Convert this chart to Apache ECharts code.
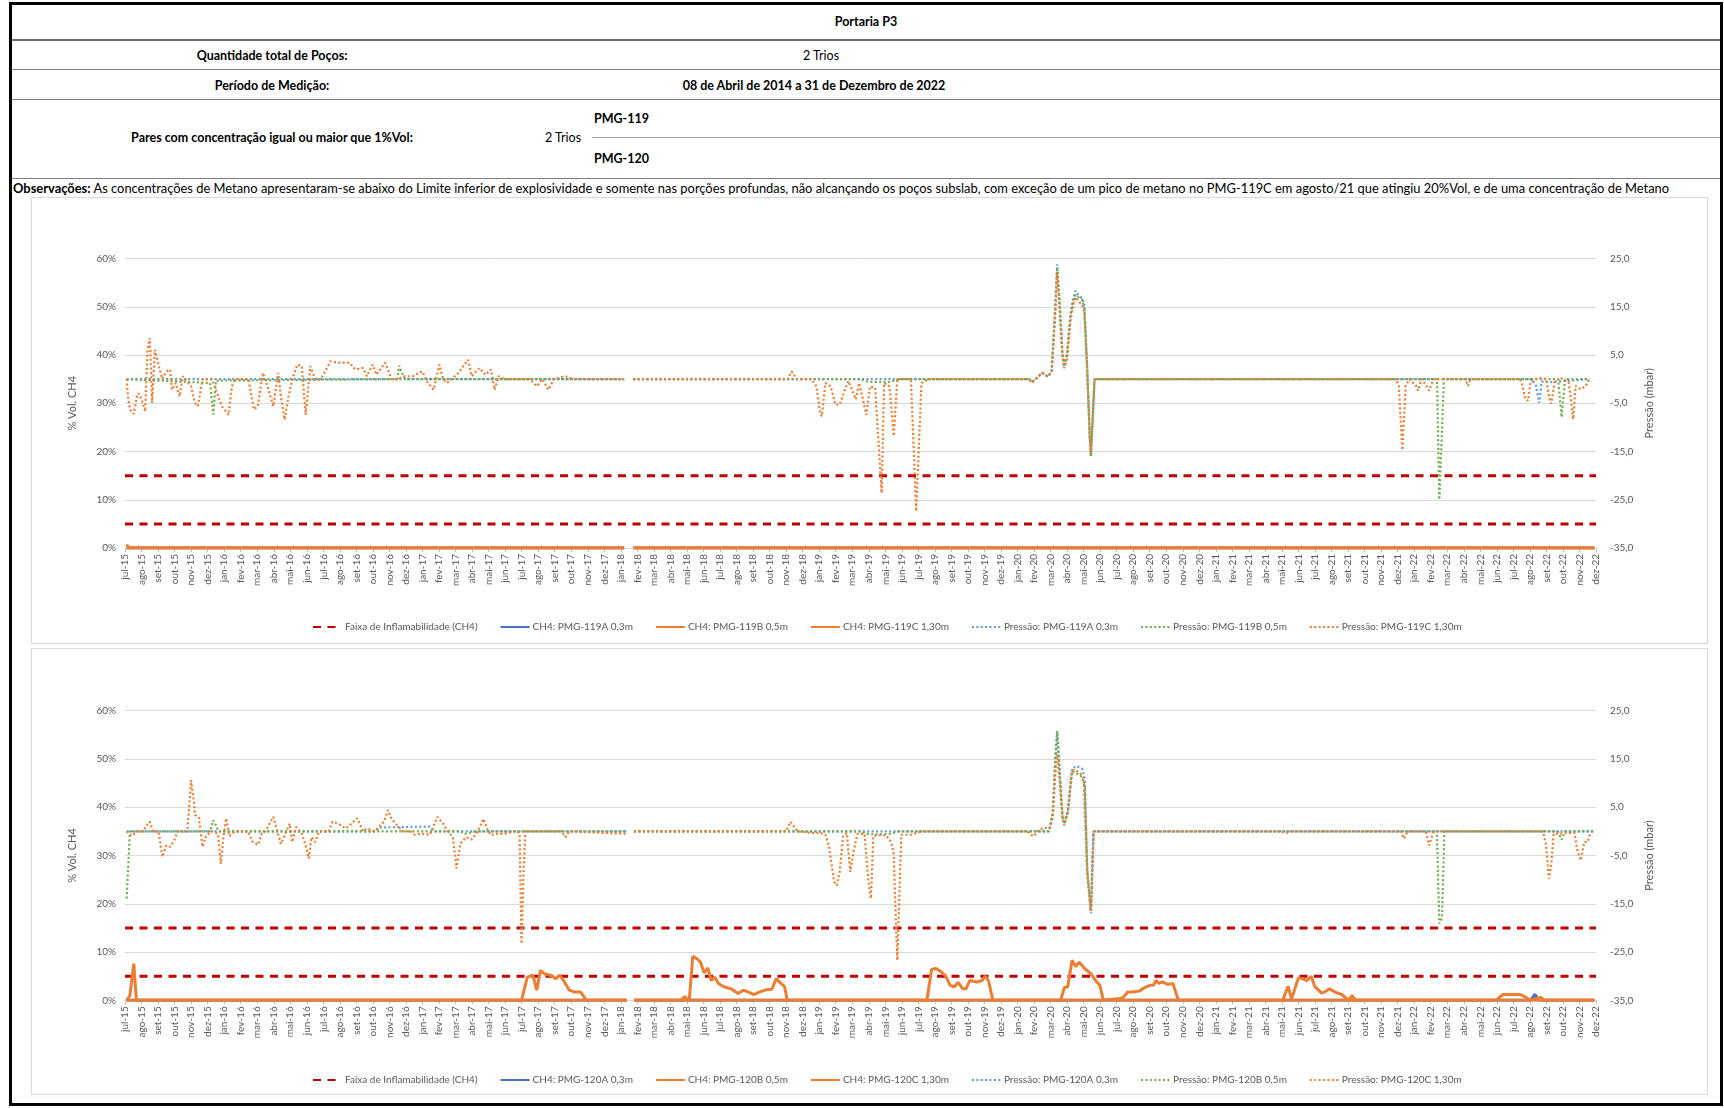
<!DOCTYPE html>
<html>
<head>
<meta charset="utf-8">
<script src="https://cdn.jsdelivr.net/npm/echarts@6/dist/echarts.min.js"></script>
<style>
  html, body { margin: 0; padding: 0; background: #fff; }
  body { width: 1724px; height: 1108px; position: relative; overflow: hidden; font-family: Lato, 'Liberation Sans', sans-serif; color: #000; }
  .t { position: absolute; white-space: nowrap; line-height: 1; font-size: 12.5px; }
  .b { font-weight: bold; }
  .c { transform: translate(-50%, -50%); }
  .l { transform: translateY(-50%); }
  .hl { position: absolute; height: 0; border-top: 1px solid #7f7f7f; }
  .vb { position: absolute; background: #000; }
  .panel { position: absolute; box-sizing: border-box; border: 1px solid #d9d9d9; }
  .chart { position: absolute; }
</style>
</head>
<body>
<!-- outer black frame -->
<div class="vb" style="left:9px;top:2px;width:1714px;height:3px;"></div>
<div class="vb" style="left:9px;top:2px;width:3px;height:1104px;"></div>
<div class="vb" style="left:1720px;top:2px;width:3px;height:1104px;"></div>
<div class="vb" style="left:9px;top:1103px;width:1714px;height:3px;"></div>

<div class="t b c" style="left:866px;top:22px;">Portaria P3</div>
<div class="hl" style="left:12px;top:39px;width:1708px;border-top:2px solid #6f6f6f;"></div>
<div class="t b c" style="left:272px;top:56px;">Quantidade total de Poços:</div>
<div class="t c" style="left:821px;top:56px;">2 Trios</div>
<div class="hl" style="left:12px;top:69px;width:1708px;"></div>
<div class="t b c" style="left:272px;top:86px;">Período de Medição:</div>
<div class="t b c" style="left:814px;top:86px;">08 de Abril de 2014 a 31 de Dezembro de 2022</div>
<div class="hl" style="left:12px;top:99px;width:1708px;"></div>
<div class="t b l" style="left:594px;top:119px;">PMG-119</div>
<div class="t b c" style="left:272px;top:138px;">Pares com concentração igual ou maior que 1%Vol:</div>
<div class="t c" style="left:563px;top:138px;">2 Trios</div>
<div class="hl" style="left:592px;top:137px;width:1128px;border-top:1px solid #a6a6a6;"></div>
<div class="t b l" style="left:594px;top:159px;">PMG-120</div>
<div class="hl" style="left:12px;top:178px;width:1708px;"></div>
<div class="t l" style="left:13px;top:188px;font-size:12.9px;"><b>Observações:</b> As concentrações de Metano apresentaram-se abaixo do Limite inferior de explosividade e somente nas porções profundas, não alcançando os poços subslab, com exceção de um pico de metano no PMG-119C em agosto/21 que atingiu 20%Vol, e de uma concentração de Metano</div>

<div class="panel" style="left:31px;top:197px;width:1677px;height:447px;"></div>
<div class="panel" style="left:31px;top:648px;width:1677px;height:447px;"></div>
<div id="c1" class="chart" style="left:31px;top:197px;width:1676px;height:446px;"></div>
<div id="c2" class="chart" style="left:31px;top:648px;width:1676px;height:446px;"></div>

<script>
// ---------- tick labels (monthly, jul-15 .. dez-22) ----------
const months = [
  'jul-15','ago-15','set-15','out-15','nov-15','dez-15',
  'jan-16','fev-16','mar-16','abr-16','mai-16','jun-16','jul-16','ago-16','set-16','out-16','nov-16','dez-16',
  'jan-17','fev-17','mar-17','abr-17','mai-17','jun-17','jul-17','ago-17','set-17','out-17','nov-17','dez-17',
  'jan-18','fev-18','mar-18','abr-18','mai-18','jun-18','jul-18','ago-18','set-18','out-18','nov-18','dez-18',
  'jan-19','fev-19','mar-19','abr-19','mai-19','jun-19','jul-19','ago-19','set-19','out-19','nov-19','dez-19',
  'jan-20','fev-20','mar-20','abr-20','mai-20','jun-20','jul-20','ago-20','set-20','out-20','nov-20','dez-20',
  'jan-21','fev-21','mar-21','abr-21','mai-21','jun-21','jul-21','ago-21','set-21','out-21','nov-21','dez-21',
  'jan-22','fev-22','mar-22','abr-22','mai-22','jun-22','jul-22','ago-22','set-22','out-22','nov-22','dez-22'
];

// Faixa de inflamabilidade (CH4, %Vol)
const lelValue = 5;
const uelValue = 15;

// ---------- PMG-119 : CH4 (%Vol) as [month position, value] ----------
const ch4_119A = [[0.1,0],[30.2,0],[30.5,null],[30.75,0],[88.9,0]];
const ch4_119B = [[0.1,0],[30.2,0],[30.5,null],[30.75,0],[88.9,0]];
const ch4_119C = [[0.1,0.7],[0.25,0],[30.2,0],[30.5,null],[30.75,0],[88.9,0]];

// ---------- PMG-119 : Pressão (mbar) ----------
const p_119A = [[0.1,0],[30.2,0],[30.5,null],[30.75,0],[54.7,0],[54.89,-0.5],[55.1,0],[55.49,1.3],[55.85,0.5],[56.07,1.7],[56.29,15.5],[56.4,23.8],[56.56,15],[56.72,5],[56.82,2.5],[56.99,5],[57.2,13.5],[57.36,16.5],[57.51,18.3],[57.67,17.5],[57.89,16.8],[58.04,15.5],[58.22,2],[58.37,-12],[58.44,-16],[58.55,-8],[58.66,0],[85.04,0],[85.35,-1],[85.56,-4.9],[85.72,-0.5],[86.1,-0.5],[86.3,-0.6],[88.6,0]];
const p_119B = [[0.1,0],[5.15,-0.8],[5.34,-7.3],[5.5,-0.3],[5.6,0],[16.48,0],[16.59,2.8],[16.75,1.4],[16.94,0],[30.2,0],[30.5,null],[30.75,0],[44.5,0],[45.0,-0.6],[46.3,-0.6],[46.8,0],[54.7,0],[54.89,-0.5],[55.1,0],[55.49,1.3],[55.85,0.5],[56.07,1.7],[56.29,15],[56.4,22.8],[56.56,15],[56.72,5],[56.82,3],[56.99,5],[57.2,13],[57.36,16],[57.51,17.5],[57.67,17],[57.89,16.5],[58.04,15],[58.22,2],[58.37,-12],[58.44,-16],[58.55,-8],[58.66,0],[79.38,0],[79.52,-25],[79.8,0],[86.71,0],[86.92,-7.9],[87.13,0],[88.6,0]];
const p_119C = [[0.1,0],[0.18,-3.6],[0.3,-6.3],[0.53,-7.2],[0.72,-3.6],[0.81,-2.9],[1.0,-4.2],[1.22,-6.7],[1.36,6.1],[1.5,8.5],[1.64,-4.9],[1.8,6.1],[1.92,6.5],[2.1,2],[2.26,0],[2.5,1.6],[2.73,2],[2.84,-2.2],[3.07,-0.8],[3.3,-3.6],[3.49,0.6],[3.58,0.9],[4.0,-1.5],[4.23,-4.9],[4.41,-5.6],[4.69,0],[5.27,0],[5.85,-5.6],[6.26,-7.4],[6.47,-1.5],[6.66,0],[7.46,0],[7.81,-6.3],[8.04,-5.6],[8.34,1.3],[8.62,-1.5],[8.97,-5.6],[9.27,1.3],[9.43,-3.6],[9.66,-8.4],[9.89,-3.6],[10.12,0],[10.42,3],[10.7,2.7],[10.93,-7.4],[11.21,2.7],[11.51,0],[11.86,0],[12.43,3.7],[12.9,3.4],[13.59,3.4],[13.94,2],[14.4,2.3],[14.63,0.6],[14.98,3],[15.21,0.9],[15.74,3.4],[16.13,0],[16.48,0],[16.94,0.6],[17.4,0.6],[17.98,1.6],[18.33,-0.8],[18.67,-2.2],[19.02,3],[19.25,0],[19.48,-0.8],[20.18,1.3],[20.75,4],[20.98,0.6],[21.45,2.3],[21.79,0.9],[22.14,2],[22.37,-2.2],[22.6,0.6],[22.95,0],[24.5,0],[24.91,-1.5],[25.26,0],[25.61,-2.2],[25.95,0],[26.65,0.6],[27.1,0],[30.2,0],[30.5,null],[30.75,0],[40.1,0],[40.33,1.6],[40.65,0],[41.51,0],[41.84,-1.5],[42.05,-7],[42.16,-7.7],[42.38,-0.8],[42.7,-1.5],[42.98,-5.3],[43.24,-5.3],[43.56,-2.2],[43.77,-0.4],[44.21,-4.2],[44.42,-0.8],[44.85,-7.4],[45.07,-1.5],[45.39,-1.8],[45.78,-23.6],[45.93,-0.8],[46.26,-1.5],[46.51,-11.8],[46.73,0],[47.55,0],[47.87,-27.4],[48.19,-0.8],[48.63,0],[54.7,0],[54.89,-0.8],[55.1,0],[55.49,1.3],[55.85,0.5],[56.07,1.7],[56.29,14],[56.4,22],[56.56,14],[56.72,5],[56.82,2.3],[56.99,4],[57.2,12],[57.36,15.5],[57.51,17],[57.67,16.2],[57.89,15.5],[58.04,14],[58.22,1],[58.37,-12],[58.44,-15.5],[58.55,-8],[58.66,0],[76.9,0],[77.07,-1.4],[77.28,-14.7],[77.49,-1.4],[77.7,0],[78.12,-1.4],[78.23,-2.4],[78.44,0],[78.75,-1.4],[78.9,-2.4],[79.17,0],[81.1,0],[81.26,-1.4],[81.4,0],[84.4,0],[84.51,-0.8],[84.72,-4.1],[84.89,-4.5],[85.04,-0.5],[85.56,0.3],[85.98,0],[86.19,-4.1],[86.29,-5.1],[86.5,-0.6],[86.82,0.3],[87.34,-0.6],[87.45,-3.4],[87.62,-8.3],[87.76,-1.4],[88.08,-2.1],[88.39,-1.4],[88.6,0]];

// ---------- PMG-120 : CH4 (%Vol) ----------
const ch4_120A = [[0.1,0],[30.35,0],[30.6,null],[30.8,0],[85.04,0],[85.3,1.2],[85.56,0],[88.9,0]];
const ch4_120B = [[0.1,0],[30.35,0],[30.6,null],[30.8,0],[88.9,0]];
const ch4_120C = [[0.1,0],[0.3,1],[0.53,7.6],[0.69,0],[23.99,0],[24.34,4.8],[24.68,5.2],[24.91,2.1],[25.14,6.2],[25.37,5.5],[25.72,5.2],[26.07,4.5],[26.3,5.2],[26.53,4.1],[26.88,2.1],[27.22,1.7],[27.57,1.7],[27.92,0],[30.35,0],[30.6,null],[30.8,0],[33.64,0],[33.86,0.8],[34.0,0.3],[34.14,0],[34.35,9.1],[34.61,8.6],[34.82,7.9],[35.04,5.7],[35.26,6.7],[35.47,4.1],[35.69,4.8],[35.9,3.5],[36.23,2.8],[36.66,2.4],[37.09,1.4],[37.41,2.1],[37.73,1.7],[38.06,1.2],[38.38,1.7],[38.81,2.2],[39.14,2.3],[39.4,4.5],[39.68,3.5],[39.9,2.9],[40.07,0],[48.52,0],[48.8,6.4],[49.06,6.6],[49.38,5.9],[49.66,5.0],[49.92,3.1],[50.18,2.8],[50.4,3.7],[50.68,2.4],[50.89,2.4],[51.11,4.1],[51.54,3.8],[51.86,4.1],[52.04,5.0],[52.25,4.0],[52.51,0],[56.61,0],[56.83,2.6],[57.04,2.8],[57.3,8.3],[57.52,7.0],[57.73,7.9],[58.12,6.4],[58.44,5.5],[58.72,4.1],[58.98,3.1],[59.2,0],[60.06,0.3],[60.39,0.6],[60.67,1.7],[60.93,1.7],[61.36,1.9],[61.68,2.6],[62.0,3.1],[62.22,3.1],[62.37,4.1],[62.54,3.5],[62.76,3.8],[63.08,3.3],[63.4,3.5],[63.73,0],[70.05,0],[70.37,2.9],[70.58,0.3],[71.0,4.7],[71.21,4.5],[71.52,4.1],[71.77,5.0],[71.98,2.9],[72.4,1.5],[72.68,1.9],[72.88,2.4],[73.2,1.7],[73.62,1.2],[74.03,0],[74.24,1.0],[74.46,0],[82.95,0],[83.36,1.2],[84.41,1.2],[84.72,0.7],[85.04,0],[85.67,0.6],[85.88,0],[88.9,0]];

// ---------- PMG-120 : Pressão (mbar) ----------
const p_120A = [[0.1,0],[15.2,0],[15.35,0.8],[18.4,1],[18.7,0],[30.35,0],[30.6,null],[30.8,0],[55.9,0],[56.13,3],[56.29,14],[56.4,20.5],[56.56,12],[56.72,3],[56.82,1.5],[57.04,4],[57.3,13],[57.58,13.5],[57.91,13],[58.07,11],[58.22,-8],[58.44,-17],[58.6,0],[88.9,0]];
const p_120B = [[0.1,-13.9],[0.3,0],[5.15,0],[5.34,2.3],[5.5,1.3],[5.65,0],[20.3,0],[20.6,-0.5],[21.2,0],[30.35,0],[30.6,null],[30.8,0],[44.5,0],[45.0,-0.6],[46.2,-0.6],[46.8,0],[55.9,0],[56.13,4],[56.29,16],[56.4,20.8],[56.56,12],[56.72,3],[56.82,2],[57.04,4],[57.3,12.5],[57.58,12],[57.91,11.3],[58.07,9],[58.22,-8],[58.44,-16.5],[58.6,0],[79.37,0],[79.52,-19.1],[79.68,-18],[79.83,0],[86.7,0],[86.92,-1.7],[87.13,0],[88.9,0]];
const p_120C = [[0.1,0],[0.4,-0.9],[0.76,0],[1.1,0],[1.34,1.4],[1.5,2],[1.69,0],[2.03,0],[2.2,-3.9],[2.26,-5.3],[2.5,-2.9],[2.73,-3.2],[2.96,-2],[3.19,0],[3.77,0],[4.0,10.6],[4.18,5.8],[4.23,3.4],[4.46,3],[4.69,-3.2],[4.92,-0.8],[5.27,0],[5.62,-0.5],[5.8,-6.7],[5.96,-1],[6.12,2.7],[6.31,-1],[6.66,0],[7.46,0],[7.7,-2.1],[8.04,-2.8],[8.27,-0.5],[8.5,0],[8.97,3],[9.2,0.2],[9.43,-2.6],[9.66,-0.8],[9.96,1.6],[10.12,-2.2],[10.35,0.9],[10.7,-0.5],[10.93,-2.9],[11.12,-5.6],[11.28,-1.2],[11.51,-2.2],[11.74,0],[12.32,0],[12.55,2],[12.9,1.6],[13.36,0.6],[13.7,1.6],[14.05,2.7],[14.4,0],[14.63,0.6],[15.09,0],[15.67,2],[15.9,4.4],[16.13,2.6],[16.48,1.2],[16.82,0],[17.29,0],[17.52,-0.7],[17.98,-0.5],[18.45,-0.7],[18.9,3],[19.25,1.6],[19.48,0.2],[19.83,-1.2],[20.06,-7.7],[20.29,-2.5],[20.64,-1.2],[20.98,-1.7],[21.33,0],[21.56,1.6],[21.68,2.6],[21.9,0.6],[22.14,-0.8],[22.49,-0.5],[22.95,-0.5],[23.53,0],[23.76,0],[23.87,-0.5],[23.99,-23.3],[24.1,-10],[24.22,0],[24.8,0],[26.4,0],[26.65,-1.2],[26.88,0],[30.35,-0.5],[30.6,null],[30.8,0],[40.0,0],[40.26,2],[40.48,1],[40.69,0],[41.51,-0.3],[42.05,-0.3],[42.38,-0.7],[42.59,-3.1],[42.91,-10.5],[43.06,-11.2],[43.24,-8.4],[43.45,-1],[43.67,-0.3],[43.88,-8.4],[44.1,-3.8],[44.32,-0.5],[44.75,-0.5],[44.96,-9.8],[45.13,-13.9],[45.28,-1],[45.5,-0.8],[46.04,-0.8],[46.36,-2.2],[46.51,-4.6],[46.64,-18.8],[46.73,-26.7],[46.86,-12.2],[46.97,-0.7],[47.55,-0.7],[48.19,0],[54.6,0],[54.78,-0.7],[54.99,-1],[55.2,0],[55.53,0.7],[55.96,0.7],[56.13,3],[56.29,12],[56.4,16],[56.56,10],[56.72,3],[56.82,1.3],[57.04,3.7],[57.3,12.7],[57.51,12.7],[57.8,12],[58.0,11],[58.22,-9.4],[58.44,-16.7],[58.6,0],[69.9,0],[70.3,-0.3],[70.6,0],[77.2,0],[77.39,-1.5],[77.6,0],[78.7,0],[78.9,-2.9],[79.17,0],[85.8,0],[85.98,-2.8],[86.15,-9.8],[86.29,-7],[86.44,-0.5],[87.7,-0.3],[87.87,-3.9],[88.08,-6],[88.29,-2.2],[88.49,-2.2],[88.66,-0.3]];

const faixaName = 'Faixa de Inflamabilidade (CH4)';
const names119 = ['CH4: PMG-119A 0,3m','CH4: PMG-119B 0,5m','CH4: PMG-119C 1,30m','Pressão: PMG-119A 0,3m','Pressão: PMG-119B 0,5m','Pressão: PMG-119C 1,30m'];
const names120 = ['CH4: PMG-120A 0,3m','CH4: PMG-120B 0,5m','CH4: PMG-120C 1,30m','Pressão: PMG-120A 0,3m','Pressão: PMG-120B 0,5m','Pressão: PMG-120C 1,30m'];

const FONT = 'Lato, "Liberation Sans", sans-serif';
const GREY = '#595959';

function buildOption(names, ch4, press) {
  const first = 0, last = months.length - 1;
  const red = { color: '#C00000', width: 3, type: [8, 6.5] };
  const ch4Colors = ['#4472C4', '#ED7D31', '#ED7D31'];
  const pColors = ['#5B9BD5', '#70AD47', '#ED7D31'];
  const series = [];
  [lelValue, uelValue].forEach(v => series.push({
    name: faixaName, type: 'line', yAxisIndex: 0, symbol: 'none', silent: true,
    data: [[first, v], [last, v]], lineStyle: red, itemStyle: { color: '#C00000' }
  }));
  ch4.forEach((d, i) => series.push({
    name: names[i], type: 'line', yAxisIndex: 0, symbol: 'none', silent: true,
    data: d, lineStyle: { color: ch4Colors[i], width: 3 }, itemStyle: { color: ch4Colors[i] }
  }));
  press.forEach((d, i) => series.push({
    name: names[3 + i], type: 'line', yAxisIndex: 1, symbol: 'none', silent: true,
    data: d, lineStyle: { color: pColors[i], width: 2.2, type: [2, 2.4] }, itemStyle: { color: pColors[i] }
  }));
  return {
    animation: false,
    textStyle: { fontFamily: FONT },
    grid: { left: 94, width: 1471, top: 61.5, height: 289.5 },
    legend: {
      data: [faixaName].concat(names),
      left: 276, top: 420, itemWidth: 29, itemHeight: 12, itemGap: 22,
      itemStyle: { opacity: 0 },
      textStyle: { color: GREY, fontSize: 10, fontFamily: FONT, padding: [0, 0, 0, -2] }
    },
    xAxis: {
      type: 'value', min: first, max: last, interval: 1,
      axisLine: { show: true, lineStyle: { color: '#D9D9D9' } },
      axisTick: { show: true, length: 4, lineStyle: { color: '#BFBFBF' } },
      splitLine: { show: false },
      axisLabel: {
        rotate: 90, margin: 6, fontSize: 10, color: GREY, fontFamily: FONT,
        formatter: v => months[v] || ''
      }
    },
    yAxis: [
      {
        type: 'value', min: 0, max: 60, interval: 10,
        name: '% Vol. CH4', nameLocation: 'middle', nameRotate: 90, nameGap: 47,
        nameTextStyle: { color: GREY, fontSize: 11, fontFamily: FONT },
        axisLine: { show: false }, axisTick: { show: false },
        splitLine: { lineStyle: { color: '#D9D9D9', width: 1 } },
        axisLabel: { color: GREY, fontSize: 10, margin: 9, fontFamily: FONT, formatter: v => v + '%' }
      },
      {
        type: 'value', min: -35, max: 25, interval: 10, position: 'right',
        name: 'Pressão (mbar)', nameLocation: 'middle', nameRotate: 90, nameGap: 34,
        nameTextStyle: { color: GREY, fontSize: 11, fontFamily: FONT },
        axisLine: { show: false }, axisTick: { show: false }, splitLine: { show: false },
        axisLabel: { color: GREY, fontSize: 10, margin: 14, fontFamily: FONT,
          formatter: v => v.toFixed(1).replace('.', ',') }
      }
    ],
    series
  };
}

const chart1 = echarts.init(document.getElementById('c1'), null, { renderer: 'canvas' });
chart1.setOption(buildOption(names119, [ch4_119A, ch4_119B, ch4_119C], [p_119A, p_119B, p_119C]));
const chart2 = echarts.init(document.getElementById('c2'), null, { renderer: 'canvas' });
const opt2 = buildOption(names120, [ch4_120A, ch4_120B, ch4_120C], [p_120A, p_120B, p_120C]);
opt2.grid.top = 62.7; opt2.grid.height = 289.6; opt2.legend.top = 422;
chart2.setOption(opt2);
</script>
</body>
</html>
